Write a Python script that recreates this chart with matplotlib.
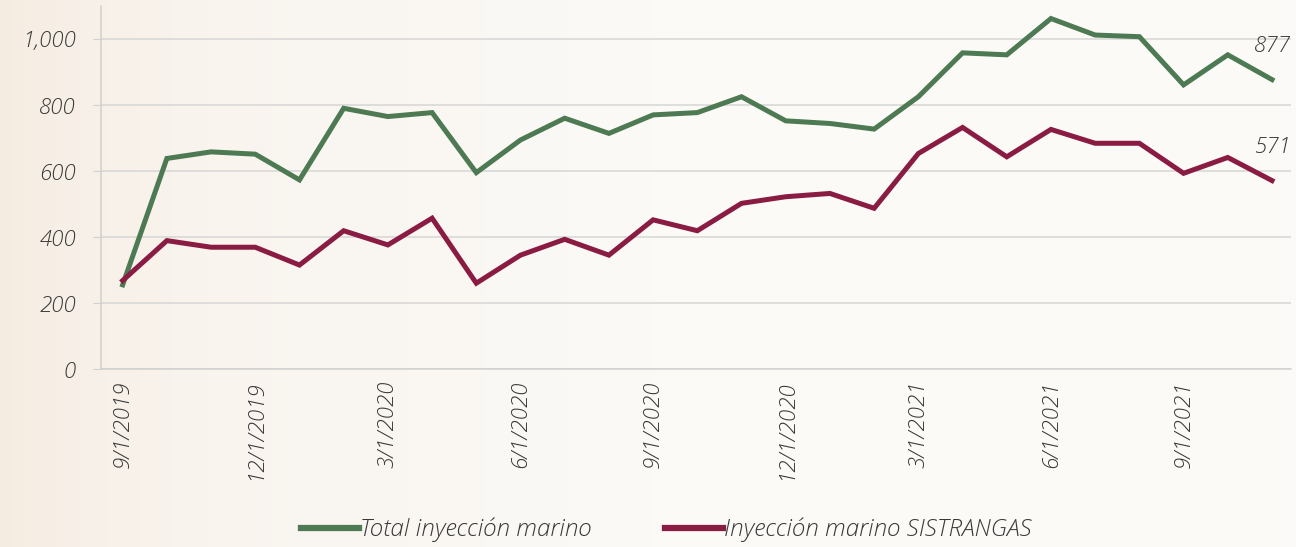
import numpy as np
import matplotlib
matplotlib.use("Agg")
import matplotlib.pyplot as plt
from matplotlib.colors import LinearSegmentedColormap

# Monthly series, Sep-2019 .. Nov-2021
months = ["9/1/2019", "10/1/2019", "11/1/2019", "12/1/2019", "1/1/2020", "2/1/2020",
          "3/1/2020", "4/1/2020", "5/1/2020", "6/1/2020", "7/1/2020", "8/1/2020",
          "9/1/2020", "10/1/2020", "11/1/2020", "12/1/2020", "1/1/2021", "2/1/2021",
          "3/1/2021", "4/1/2021", "5/1/2021", "6/1/2021", "7/1/2021", "8/1/2021",
          "9/1/2021", "10/1/2021", "11/1/2021"]

total_marino = [255, 638, 658, 651, 573, 790, 765, 777, 595, 694, 760, 714,
                770, 777, 825, 752, 744, 727, 825, 958, 952, 1062, 1012, 1007,
                861, 952, 877]

sistrangas = [268, 389, 369, 369, 315, 419, 376, 457, 260, 345, 393, 345,
              452, 419, 502, 522, 532, 487, 653, 732, 643, 726, 684, 684,
              593, 641, 571]

series_names = ["Total inyección marino", "Inyección marino SISTRANGAS"]
y_ticks = [0, 200, 400, 600, 800, 1000]

GREEN = "#4d7a52"
MAROON = "#8a1c44"
TEXT = "#383838"
FONT = ["Open Sans", "DejaVu Sans"]

fig = plt.figure(figsize=(12.96, 5.47), dpi=100)
fig.patch.set_facecolor("#fbf9f6")

# soft warm backdrop, stronger toward the left margin
bg = fig.add_axes([0, 0, 1, 1], zorder=-10)
bg.axis("off")
cmap = LinearSegmentedColormap.from_list("warm", ["#f5ebe0", "#f9f4ee", "#fbfaf7", "#fbfaf8"])
grad = np.linspace(0, 1, 400)[None, :] ** 0.6
bg.imshow(np.repeat(grad, 2, axis=0), aspect="auto", cmap=cmap, extent=[0, 1, 0, 1])

ax = fig.add_axes([101 / 1296, 1 - 369 / 547, 1190 / 1296, (369 - 6) / 547])
ax.set_facecolor("none")

x = np.arange(len(months))
ax.plot(x, total_marino, color=GREEN, lw=3.6, solid_joinstyle="miter", label=series_names[0], zorder=3)
ax.plot(x, sistrangas, color=MAROON, lw=3.6, solid_joinstyle="miter", label=series_names[1], zorder=3)

ax.set_xlim(-0.49, 26.43)
ax.set_ylim(0, 1100)

ax.set_yticks(y_ticks)
ax.set_yticklabels([f"{v:,}" for v in y_ticks], fontstyle="italic", family=FONT,
                   fontsize=16, color=TEXT, fontweight="light")
ax.grid(axis="y", color="#d6d6d6", lw=1.1)
ax.set_axisbelow(True)

tick_idx = list(range(0, len(months), 3))
ax.set_xticks(tick_idx)
ax.set_xticklabels([months[i] for i in tick_idx], rotation=90, fontstyle="italic",
                   family=FONT, fontsize=16, color=TEXT, fontweight="light")

for side in ["top", "right"]:
    ax.spines[side].set_visible(False)
ax.spines["left"].set_color("#d0d0d0")
ax.spines["bottom"].set_color("#d0d0d0")
ax.spines["left"].set_linewidth(1.1)
ax.spines["bottom"].set_linewidth(1.1)
ax.tick_params(axis="y", length=6, color="#d0d0d0", pad=12)
ax.tick_params(axis="x", length=0, pad=8)

# end-of-series value labels
for vals in (total_marino, sistrangas):
    ax.annotate(f"{vals[-1]:,}", xy=(x[-1], vals[-1]), xytext=(0, 16), textcoords="offset points",
                ha="center", va="bottom", fontstyle="italic", family=FONT, fontsize=16,
                color=TEXT, fontweight="light")

leg = fig.legend(loc="center", bbox_to_anchor=(0.514, 0.031), ncol=2, frameon=False,
                 handlelength=2.4, handletextpad=0.05, columnspacing=3.0,
                 prop={"family": FONT, "style": "italic", "size": 17.5, "weight": "light"})
for t in leg.get_texts():
    t.set_color(TEXT)
for h in leg.get_lines():
    h.set_linewidth(4.5)

fig.savefig("out.png", dpi=100, facecolor=fig.get_facecolor())
